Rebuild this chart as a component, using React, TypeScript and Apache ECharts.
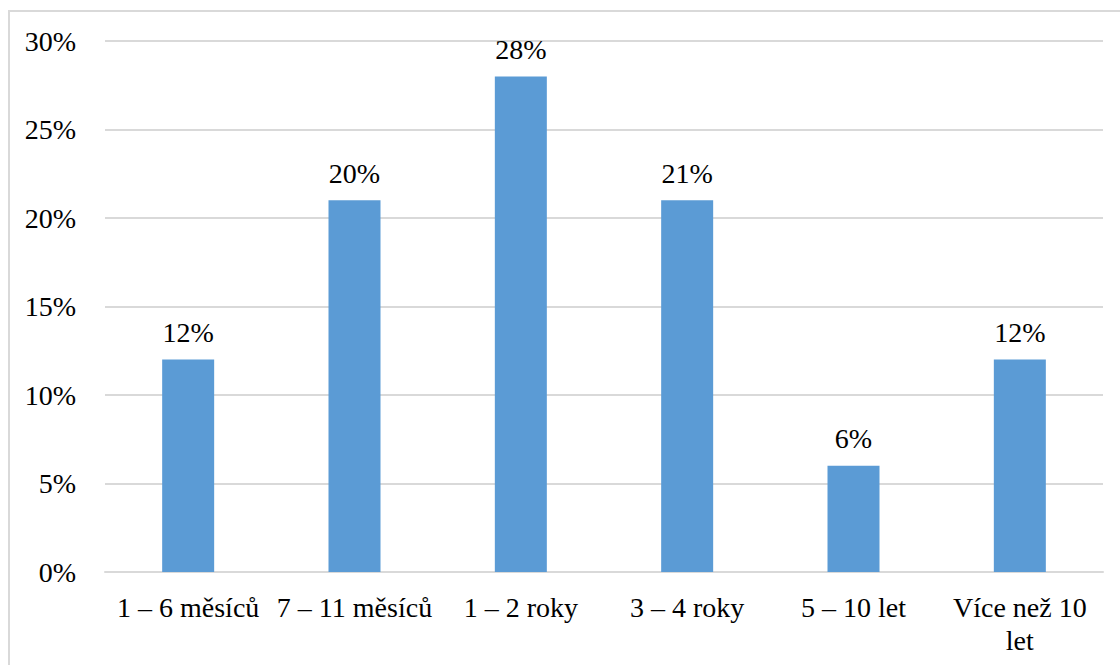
import React, { useEffect, useRef } from "react";
import * as echarts from "echarts";

const categories = ["1 – 6 měsíců", "7 – 11 měsíců", "1 – 2 roky", "3 – 4 roky", "5 – 10 let", "Více než 10\nlet"];
const values = [12, 21, 28, 21, 6, 12];
const valueLabels = ["12%", "20%", "28%", "21%", "6%", "12%"];
const yTicks = [0, 5, 10, 15, 20, 25, 30];

const FONT = "'Liberation Serif', 'Times New Roman', serif";
const FS = 28;

export default function App() {
  const ref = useRef<HTMLDivElement>(null);
  useEffect(() => {
    document.body.style.margin = "0";
    const chart = echarts.init(ref.current!, null, { renderer: "svg" });
    chart.setOption({
      animation: false,
      backgroundColor: "#ffffff",
      textStyle: { fontFamily: FONT },
      graphic: [
        {
          type: "rect",
          shape: { x: 9, y: 11, width: 1130, height: 680 },
          style: { fill: "none", stroke: "#d9d9d9", lineWidth: 2 },
          silent: true,
        },
      ],
      grid: { left: 105, right: 17, top: 41, bottom: 93, containLabel: false },
      xAxis: {
        type: "category",
        data: categories,
        axisLine: { show: true, lineStyle: { color: "#d9d9d9", width: 2 } },
        axisTick: { show: false },
        axisLabel: {
          interval: 0,
          color: "#000",
          fontFamily: FONT,
          fontSize: FS,
          margin: 19,
          lineHeight: 33,
        },
      },
      yAxis: {
        type: "value",
        min: yTicks[0],
        max: yTicks[yTicks.length - 1],
        interval: 5,
        axisLine: { show: false },
        axisTick: { show: false },
        splitLine: { lineStyle: { color: "#d9d9d9", width: 2 } },
        axisLabel: {
          color: "#000",
          fontFamily: FONT,
          fontSize: FS,
          margin: 29,
          formatter: (v: number) => v + "%",
        },
      },
      series: [
        {
          type: "bar",
          data: values,
          barWidth: 52,
          itemStyle: { color: "#5b9bd5" },
          label: {
            show: true,
            position: "top",
            distance: 13,
            color: "#000",
            fontFamily: FONT,
            fontSize: FS,
            formatter: (p: any) => valueLabels[p.dataIndex],
          },
        },
      ],
    });
    return () => chart.dispose();
  }, []);
  return <div ref={ref} style={{ width: 1120, height: 665 }} />;
}
